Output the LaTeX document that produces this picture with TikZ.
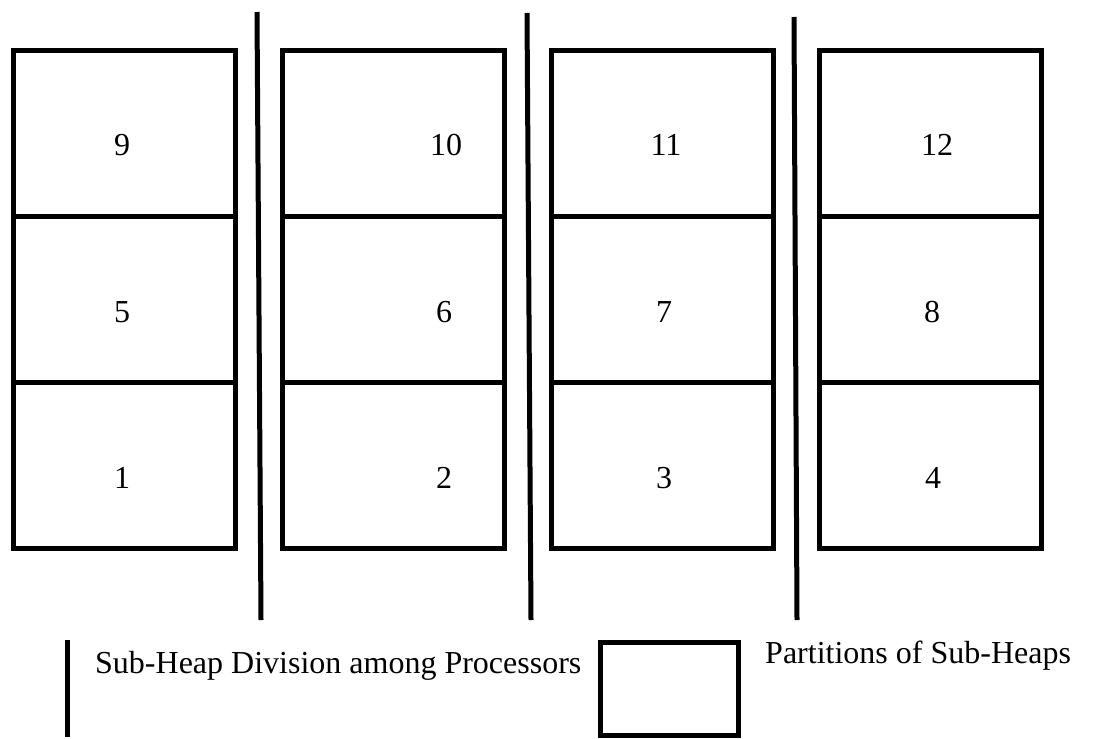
\documentclass[tikz,border=0pt]{standalone}
\usepackage{fontspec}
\setmainfont{Liberation Serif}
\begin{document}
\begin{tikzpicture}[x=1pt,y=-1pt,
  cell/.style={draw,line width=5pt,minimum width=222pt,minimum height=166pt,inner sep=0pt,line join=miter},
  num/.style={font=\fontsize{32}{38}\selectfont,inner sep=0pt},
  legtext/.style={font=\fontsize{32}{38}\selectfont,inner sep=0pt,anchor=base west},
  divider/.style={line width=5pt},
  legbox/.style={draw,line width=5pt,minimum width=138pt,minimum height=93pt,inner sep=0pt}]
\useasboundingbox (0,0) rectangle (1115,738);
% columns: centers x
\foreach \c/\x in {1/124,2/393,3/662,4/930}{
  \node[cell] (c\c r1) at (\x,133.5) {};
  \node[cell] (c\c r2) at (\x,299.5) {};
  \node[cell] (c\c r3) at (\x,465.5) {};
}
% numbers
\node[num] (n9)  at (122,145) {9};
\node[num] (n5)  at (122,312) {5};
\node[num] (n1)  at (122,478) {1};
\node[num] (n10) at (446,145) {10};
\node[num] (n6)  at (444,312) {6};
\node[num] (n2)  at (444,478) {2};
\node[num] (n11) at (666,145) {11};
\node[num] (n7)  at (664,312) {7};
\node[num] (n3)  at (664,478) {3};
\node[num] (n12) at (937,145) {12};
\node[num] (n8)  at (932,312) {8};
\node[num] (n4)  at (933,478) {4};
% dividers
\coordinate (d1t) at (257,12);  \coordinate (d1b) at (261,620);
\coordinate (d2t) at (527,13);  \coordinate (d2b) at (531,620);
\coordinate (d3t) at (794,17);  \coordinate (d3b) at (797,620);
\draw[divider] (d1t) -- (d1b);
\draw[divider] (d2t) -- (d2b);
\draw[divider] (d3t) -- (d3b);
% legend
\coordinate (lt) at (67,640); \coordinate (lb) at (67,737);
\draw[divider] (lt) -- (lb);
\node[legtext] (lt1) at (95,673) {Sub-Heap Division among Processors};
\node[legbox] (lbox) at (669,688.5) {};
\node[legtext] (lt2) at (765,663) {Partitions of Sub-Heaps};
\end{tikzpicture}
\end{document}
